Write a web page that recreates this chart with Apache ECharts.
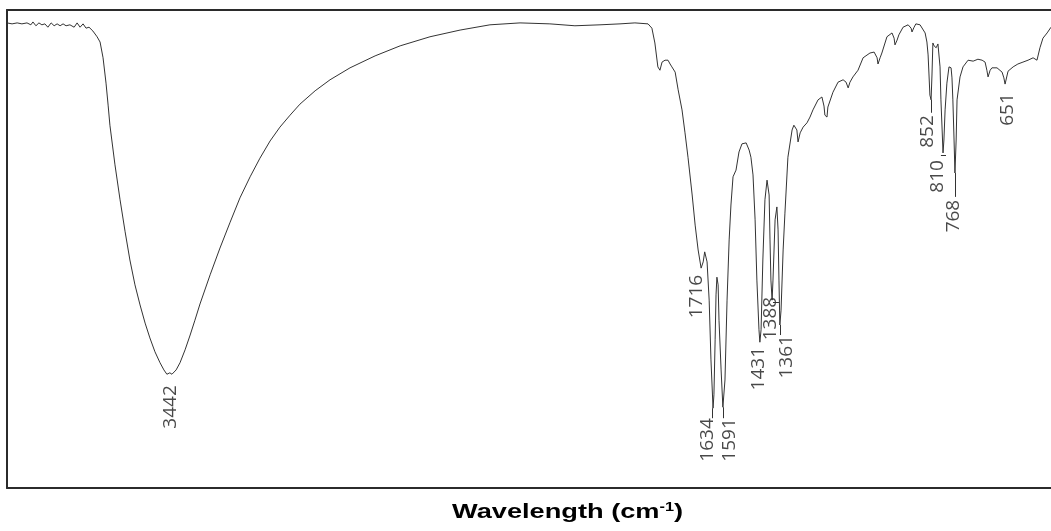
<!DOCTYPE html>
<html>
<head>
<meta charset="utf-8">
<script src="https://cdn.jsdelivr.net/npm/echarts@6/dist/echarts.min.js"></script>
<style>
html,body{margin:0;padding:0;background:#fff;}
#chart{width:1051px;height:531px;}
</style>
</head>
<body>
<div id="chart"></div>
<script>
// Spectrum (wavenumber cm-1, transmittance %)
const wavenumbers = [4000,3983,3966,3950,3933,3920,3913,3903,3893,3883,3873,3863,3852,3842,3832,3822,3812,3802,3789,3775,3765,3755,3745,3735,3725,3712,3698,3688,3678,3668,3661,3655,3638,3621,3604,3588,3571,3554,3537,3521,3504,3487,3474,3464,3454,3447,3433,3420,3403,3386,3370,3353,3319,3286,3252,3219,3185,3152,3118,3085,3051,3018,2967,2917,2850,2766,2682,2582,2481,2381,2280,2180,2096,2012,1945,1895,1851,1838,1828,1818,1811,1804,1794,1784,1777,1771,1760,1750,1737,1727,1717,1703,1693,1683,1673,1666,1661,1653,1646,1640,1633,1630,1626,1623,1620,1616,1613,1606,1600,1593,1586,1579,1573,1566,1556,1546,1536,1522,1512,1506,1499,1492,1486,1479,1476,1472,1466,1459,1452,1445,1442,1439,1435,1432,1425,1419,1415,1412,1409,1405,1398,1392,1382,1368,1362,1352,1348,1341,1331,1318,1308,1298,1281,1268,1261,1258,1251,1248,1231,1214,1197,1187,1180,1174,1164,1147,1130,1107,1093,1083,1080,1073,1067,1050,1033,1026,1023,1016,1010,996,979,969,966,959,953,939,922,916,912,909,906,902,899,896,892,885,879,872,869,865,862,859,855,849,842,835,832,829,825,822,818,815,805,795,778,761,745,731,721,715,711,704,698,681,664,658,654,651,644,627,611,594,577,560,547,537,527,513,500];
const transmittance = [97.3,97.1,97.3,97.1,97.3,96.9,97.5,96.7,97.3,96.9,97.1,96.4,97.3,96.7,97.1,96.7,97.1,96.7,96.9,96.4,97.3,96.4,97.1,96.2,96.4,95.6,94.4,93.3,90.0,84.7,80.1,75.9,67.6,60.3,53.6,47.7,42.5,38.3,34.5,31.4,28.5,26.2,24.7,23.8,24.1,23.8,24.7,26.2,28.9,32.0,35.1,38.5,44.6,50.2,55.6,60.7,65.1,69.0,72.6,75.5,78.0,80.3,83.1,85.4,87.9,90.4,92.5,94.4,95.8,96.9,97.3,97.1,96.7,96.9,97.1,97.3,97.1,96.2,93.1,88.1,87.4,89.1,89.5,89.5,88.7,88.1,87.0,83.3,79.1,74.3,69.2,61.3,55.0,49.8,46.0,47.3,49.4,47.3,39.3,26.8,16.7,19.5,31.0,40.4,44.1,42.5,35.1,24.7,16.9,22.6,39.3,51.9,59.2,65.1,66.5,70.3,72.0,72.2,70.7,69.2,65.5,56.1,43.5,33.1,30.5,33.1,47.7,60.3,64.4,61.3,51.9,43.5,39.3,43.5,56.1,58.8,54.0,43.5,34.1,37.2,49.8,57.5,69.2,74.9,75.9,74.9,72.4,74.3,75.5,76.4,77.6,79.1,81.2,81.8,79.9,78.0,77.6,79.7,82.8,84.9,85.4,84.9,83.7,84.9,86.0,87.4,90.0,91.0,91.2,90.0,88.7,90.0,91.0,94.4,95.2,94.1,92.7,93.7,94.8,96.4,96.9,96.2,95.4,96.4,97.1,96.9,95.2,93.3,90.6,86.4,82.2,81.2,86.4,93.1,92.5,92.1,92.9,88.1,81.2,74.9,70.1,72.8,79.1,84.7,88.1,87.9,85.8,81.2,72.8,65.9,72.8,81.2,86.0,88.1,89.5,89.3,89.7,89.5,89.1,87.4,86.0,87.4,87.9,87.9,87.0,85.8,84.5,84.9,87.2,88.1,88.7,89.1,89.5,90.0,89.5,92.1,94.1,95.2,96.4];

// Peak annotations
const peakLabels = ['3442','1716','1634','1591','1431','1388','1361','852','810','768','651'];
const labelWn    = [3452,1688,1652,1578,1479,1439,1388,914,880,825,646];
const labelT     = [21.5,44.6,14.6,14.6,29.5,40.0,32.0,78.0,68.6,60.3,82.6];

// Leader strokes: start/end wavenumber and transmittance
const leaderWn1 = [1635,1600,1409,902,822,869,1432];
const leaderT1  = [16.7,16.9,34.1,81.2,65.9,69.7,38.9];
const leaderWn2 = [1635,1600,1409,902,822,852,1412];
const leaderT2  = [14.6,14.6,32.0,78.5,60.9,69.7,38.9];

const axisTitle = 'Wavelength (cm{sup|-1})';

const lineColor = '#333333';
const spectrum = wavenumbers.map((w, i) => [w, transmittance[i]]);
const labelData = peakLabels.map((t, i) => ({ name: t, value: [labelWn[i], labelT[i]] }));
const leaders = leaderWn1.map((w, i) => [
  { coord: [w, leaderT1[i]] },
  { coord: [leaderWn2[i], leaderT2[i]] }
]);

const chart = echarts.init(document.getElementById('chart'), null, { renderer: 'canvas' });
const axisCommon = {
  type: 'value', min: 500, max: 4000, inverse: true,
  axisLine: { show: true, onZero: false, lineStyle: { color: '#2b2b2b', width: 2 } },
  axisTick: { show: false }, axisLabel: { show: false }, splitLine: { show: false }
};
chart.setOption({
  animation: false,
  backgroundColor: '#ffffff',
  graphic: [{
    type: 'text', x: 452, y: 502, scaleX: 1.36, silent: true,
    style: {
      text: axisTitle,
      fontFamily: 'Liberation Sans', fontWeight: 'bold', fontSize: 20, fill: '#000',
      rich: { sup: { fontFamily: 'Liberation Sans', fontWeight: 'bold', fontSize: 12, fill: '#000', verticalAlign: 'top', padding: [0, 0, 8, 0] } }
    }
  }],
  grid: { left: 7, right: 0, top: 10, bottom: 43, containLabel: false },
  xAxis: [
    Object.assign({ position: 'bottom' }, axisCommon),
    Object.assign({ position: 'top' }, axisCommon)
  ],
  yAxis: {
    type: 'value', min: 0, max: 100,
    axisLine: { show: true, onZero: false, lineStyle: { color: '#2b2b2b', width: 2 } },
    axisTick: { show: false }, axisLabel: { show: false }, splitLine: { show: false }
  },
  series: [
    {
      type: 'line', data: spectrum, symbol: 'none', smooth: false,
      lineStyle: { color: lineColor, width: 1 }
    },
    {
      type: 'scatter', data: labelData, symbolSize: 1,
      itemStyle: { color: 'rgba(0,0,0,0)' },
      label: {
        show: true, formatter: '{b}', position: 'inside', rotate: 90,
        align: 'right', verticalAlign: 'middle',
        fontFamily: 'Open Sans', fontSize: 19, color: '#1a1a1a'
      },
      markLine: {
        silent: true, symbol: 'none', animation: false,
        label: { show: false },
        lineStyle: { color: lineColor, width: 1, type: 'solid' },
        data: leaders
      }
    }
  ]
});
</script>
</body>
</html>
